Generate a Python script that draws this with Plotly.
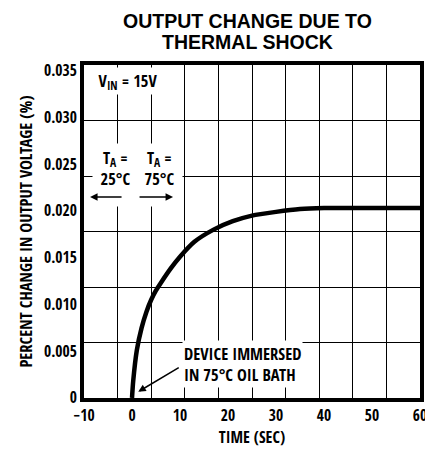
import plotly.graph_objects as go

# Data
time_s = [0.0, 0.25, 1, 2, 3, 4, 5, 6, 8, 10, 13, 17, 21, 25, 30, 35, 40, 50, 60]
pct_change = [0.0, 0.0018, 0.0051, 0.0075, 0.0092, 0.0105, 0.0115, 0.0123, 0.0138, 0.0151, 0.0167,
              0.0180, 0.0189, 0.0195, 0.0199, 0.0202, 0.0203, 0.0203, 0.0203]

x_tickvals = [-10, 0, 10, 20, 30, 40, 50, 60]
x_ticktext = ["−10", "0", "10", "20", "30", "40", "50", "60"]
y_tickvals = [0, 0.005, 0.010, 0.015, 0.020, 0.025, 0.030, 0.035]
y_ticktext = ["0", "0.005", "0.010", "0.015", "0.020", "0.025", "0.030", "0.035"]

NARROW = "Open Sans Condensed, Roboto Condensed, sans-serif"
BOLD = "Liberation Sans, Arial, sans-serif"

fig = go.Figure()

fig.add_trace(go.Scatter(
    x=time_s, y=pct_change, mode="lines",
    line=dict(color="black", width=4.5, shape="spline", smoothing=0.6),
    showlegend=False, hoverinfo="skip",
))
# helper (empty) trace for the grid axes
fig.add_trace(go.Scatter(x=[None], y=[None], xaxis="x2", yaxis="y2",
                         showlegend=False, hoverinfo="skip"))

tick_font = dict(family=NARROW, size=15.5, color="black", weight="bold")

# the page adds an 8px body margin, so the figure is sized/offset to compensate
fig.update_layout(
    width=425, height=446,
    margin=dict(l=76, r=13, t=57, b=56),
    paper_bgcolor="white", plot_bgcolor="white",
    xaxis=dict(
        range=[-10, 60], tickvals=x_tickvals, ticktext=x_ticktext, automargin=False,
        showgrid=False, zeroline=False, showline=True, linewidth=4,
        linecolor="black", mirror=True, ticks="", ticklabelstandoff=0,
        tickfont=tick_font,
        title=dict(text="TIME (SEC)", font=dict(family=NARROW, size=16, color="black", weight="bold"), standoff=3),
    ),
    yaxis=dict(
        range=[0, 0.0356], tickvals=y_tickvals, ticktext=y_ticktext, automargin=False,
        showgrid=False, zeroline=False, showline=True, linewidth=4,
        linecolor="black", mirror=True, ticks="", ticklabelstandoff=0,
        tickfont=tick_font,
        title=dict(text="PERCENT CHANGE IN OUTPUT VOLTAGE (%)",
                   font=dict(family=NARROW, size=16.5, color="black", weight="bold"), standoff=8),
    ),
    xaxis2=dict(range=[0, 10], dtick=1, overlaying="x", showgrid=True, automargin=False,
                gridcolor="black", gridwidth=1, showticklabels=False,
                zeroline=False, ticks="", showline=False),
    yaxis2=dict(range=[0, 6], dtick=1, overlaying="y", showgrid=True, automargin=False,
                gridcolor="black", gridwidth=1, showticklabels=False,
                zeroline=False, ticks="", showline=False),
)

# title (two lines, tight spacing)
title_font = dict(family=BOLD, size=19.5, color="black", weight="bold")
fig.add_annotation(xref="paper", yref="paper", x=0.488, y=1.132, xanchor="center", yanchor="middle",
                   text="OUTPUT CHANGE DUE TO", showarrow=False, font=title_font)
fig.add_annotation(xref="paper", yref="paper", x=0.488, y=1.068, xanchor="center", yanchor="middle",
                   text="THERMAL SHOCK", showarrow=False, font=title_font)

ann_font = dict(family=NARROW, size=16.5, color="black", weight="bold")
fig.add_annotation(xref="paper", yref="paper", x=0.006, y=0.994, xanchor="left", yanchor="top",
                   text="V<sub>IN</sub> = 15V", showarrow=False, width=82, height=26,
                   bgcolor="white", align="center", font=ann_font, borderpad=0)
# T_A labels on white boxes (hiding the grid behind them)
fig.add_annotation(xref="paper", yref="paper", x=0.0238, y=0.766, xanchor="left", yanchor="top",
                   text="T<sub>A</sub> =<br>25°C", showarrow=False, font=ann_font, align="center",
                   valign="top", width=41, height=58, bgcolor="white", borderpad=2)
fig.add_annotation(xref="paper", yref="paper", x=0.1548, y=0.766, xanchor="left", yanchor="top",
                   text="T<sub>A</sub> =<br>75°C", showarrow=False, font=ann_font, align="center",
                   valign="top", width=41, height=58, bgcolor="white", borderpad=2)
fig.add_annotation(xref="paper", yref="paper", x=0.018, y=0.6036, ax=33, ay=0, text="",
                   showarrow=True, arrowhead=2, arrowsize=1, arrowwidth=1.5, arrowcolor="black")
fig.add_annotation(xref="paper", yref="paper", x=0.265, y=0.6036, ax=-35, ay=0, text="",
                   showarrow=True, arrowhead=2, arrowsize=1, arrowwidth=1.5, arrowcolor="black")
fig.add_annotation(xref="paper", yref="paper", x=0.292, y=0.102, xanchor="left", yanchor="middle",
                   text="DEVICE IMMERSED<br>IN 75°C OIL BATH", showarrow=False,
                   bgcolor="white", align="left", font=ann_font, borderpad=1)
fig.add_annotation(xref="x", yref="y", x=1.3, y=0.00067, ax=42, ay=-25, text="",
                   showarrow=True, arrowhead=2, arrowsize=1, arrowwidth=1.5, arrowcolor="black")

fig.write_html("out.html")
